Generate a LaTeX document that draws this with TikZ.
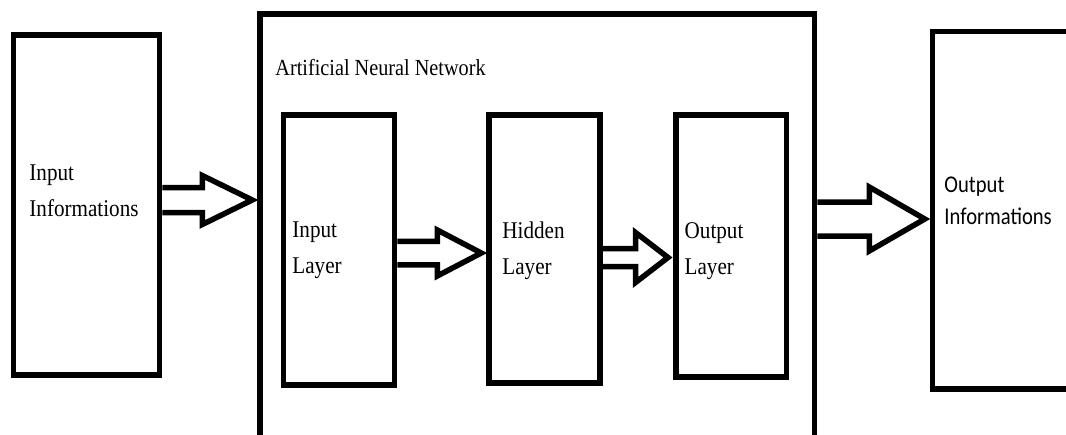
\documentclass[tikz,border=0pt]{standalone}
\usepackage{fontspec}
\setmainfont[FakeStretch=0.88]{Liberation Serif}
\newfontfamily\calfont[FakeStretch=0.86]{Carlito}
\usetikzlibrary{positioning,calc}

\begin{document}
\begin{tikzpicture}[x=1pt, y=-1pt,
    box/.style={draw, line width=5.5pt, rectangle, inner sep=0pt},
    lbl/.style={inner sep=0pt, align=left, font=\fontsize{24}{36}\selectfont},
    hollow/.style n args={3}{line width=5.5pt, to path={
        let \p1=(\tikztostart), \p2=(\tikztotarget) in
        (\x1,\y1+#1) -- (\x2-#3,\y1+#1) -- (\x2-#3,\y1+#2) -- (\x2-5,\y1)
        -- (\x2-#3,\y1-#2) -- (\x2-#3,\y1-#1) -- (\x1,\y1-#1)}}]
    \clip (0,0) rectangle (1066,434);

    % outer blocks
    \node[box, minimum width=146pt, minimum height=340pt] (ininfo) at (86.5,205) {};
    \node[box, minimum width=554.5pt, minimum height=486pt] (ann) at (537.25,257) {};
    \node[box, minimum width=167.5pt, minimum height=357.5pt] (outinfo) at (1016.25,210) {};

    % layers inside the network
    \node[box, minimum width=111pt, minimum height=270pt] (inlayer) at (339,250) {};
    \node[box, minimum width=111pt, minimum height=268pt] (hidden) at (544.5,249) {};
    \node[box, minimum width=110.5pt, minimum height=262pt] (outlayer) at (731,246) {};

    % arrows
    \draw[hollow={12.5}{24.5}{55}] ([yshift=5pt]ininfo.east) to (ann.west);
    \draw[hollow={11.75}{23}{49}] ([yshift=-3pt]inlayer.east) to (hidden.west);
    \draw[hollow={9}{25}{37.5}] ([yshift=-8.5pt]hidden.east) to (outlayer.west);
    \draw[hollow={17}{32}{60.5}] ([yshift=38pt]ann.east) to (outinfo.west);

    % labels
    \node[lbl, font=\fontsize{23}{36}\selectfont, anchor=base west] (anntitle) at ([xshift=18pt,yshift=-64pt]ann.north west) {Artificial Neural Network};
    \node[lbl, right=18.5pt of ininfo.west, yshift=14pt] (ininfotext) {Input\\Informations};
    \node[lbl, right=11.5pt of inlayer.west] (inlayertext) {Input\\Layer};
    \node[lbl, right=16pt of hidden.west, yshift=-2pt] (hiddentext) {Hidden\\Layer};
    \node[lbl, right=11.5pt of outlayer.west, yshift=-5pt] (outlayertext) {Output\\Layer};
    \node[lbl, font=\calfont\fontsize{24}{32}\selectfont, right=14.5pt of outinfo.west, yshift=9pt] (outinfotext) {Output\\Informations};
\end{tikzpicture}
\end{document}
